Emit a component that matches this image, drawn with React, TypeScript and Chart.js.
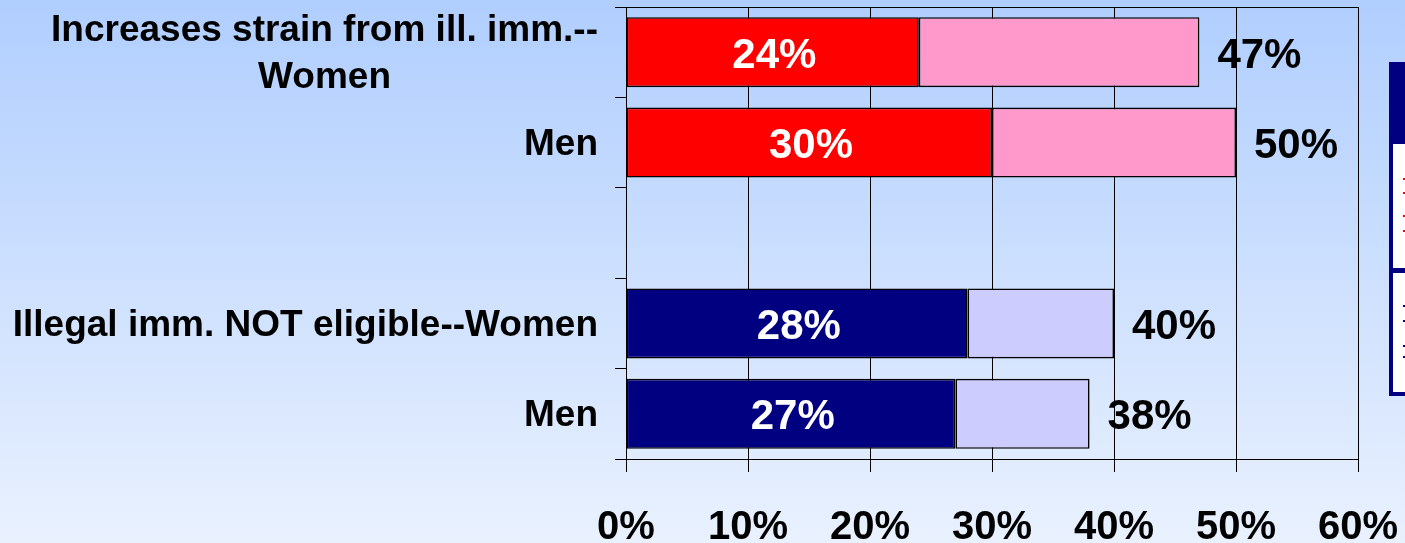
import React, { useEffect, useRef } from "react";
import { Chart, registerables } from "chart.js";

Chart.register(...registerables);

const categories: string[][] = [
  ["Increases strain from ill. imm.--", "Women"],
  ["Men"],
  [""],
  ["Illegal imm. NOT eligible--Women"],
  ["Men"],
];
const strongValues: (number | null)[] = [24, 30, null, 28, 27];
const totalValues: (number | null)[] = [47, 50, null, 40, 38];
const xTicks = [0, 10, 20, 30, 40, 50, 60];
const strongColors = ["#ff0000", "#ff0000", "#ff0000", "#000080", "#000080"];
const restColors = ["#ff99cc", "#ff99cc", "#ff99cc", "#ccccff", "#ccccff"];

const FONT = "'Liberation Sans', Arial, sans-serif";

const bgPlugin = {
  id: "bg",
  beforeDraw(chart: any) {
    const { ctx, width, height } = chart;
    const g = ctx.createLinearGradient(0, 0, 0, height);
    g.addColorStop(0, "#b0cefe");
    g.addColorStop(1, "#e9f1fe");
    ctx.save();
    ctx.fillStyle = g;
    ctx.fillRect(0, 0, width, height);
    ctx.restore();
  },
};

const decorPlugin = {
  id: "decor",
  afterDraw(chart: any) {
    const { ctx, chartArea, scales } = chart;
    const xs = scales.x;
    const ys = scales.y;
    ctx.save();
    // top border of plot
    ctx.strokeStyle = "#000";
    ctx.lineWidth = 1;
    ctx.beginPath();
    ctx.moveTo(chartArea.left, chartArea.top + 0.5);
    ctx.lineTo(chartArea.right, chartArea.top + 0.5);
    ctx.stroke();

    // y category labels
    ctx.font = `bold 37px ${FONT}`;
    ctx.fillStyle = "#000";
    ctx.textAlign = "center";
    ctx.textBaseline = "middle";
    const right = chartArea.left - 28;
    categories.forEach((lines, i) => {
      const cy = ys.getPixelForValue(i);
      const maxW = Math.max(...lines.map((l) => ctx.measureText(l).width));
      const cx = right - maxW / 2;
      lines.forEach((l, j) => {
        const y = cy + (j - (lines.length - 1) / 2) * 47;
        ctx.fillText(l, cx, y + 2);
      });
    });

    // value labels
    ctx.font = `bold 42px ${FONT}`;
    strongValues.forEach((v, i) => {
      const t = totalValues[i];
      if (v == null || t == null) return;
      const cy = ys.getPixelForValue(i);
      const x0 = xs.getPixelForValue(0);
      const x1 = xs.getPixelForValue(v);
      ctx.fillStyle = "#fff";
      ctx.textAlign = "center";
      ctx.fillText(`${v}%`, (x0 + x1) / 2 + 2, cy + 4);
      ctx.fillStyle = "#000";
      ctx.textAlign = "left";
      ctx.fillText(`${t}%`, xs.getPixelForValue(t) + 18, cy + 4);
    });

    // partially visible legend box on the right edge
    const lx = 1389;
    const top = 62;
    const bottom = 396;
    ctx.fillStyle = "#000080";
    ctx.fillRect(lx, top, 40, bottom - top);
    ctx.fillStyle = "#ffffff";
    ctx.fillRect(lx + 4, 144, 40, 268 - 144);
    ctx.fillRect(lx + 4, 273, 40, 392 - 273);
    ctx.fillStyle = "#ff0000";
    [178, 192, 215, 230].forEach((y) => ctx.fillRect(1403, y, 2, 2));
    ctx.fillStyle = "#000080";
    [305, 320, 345, 356].forEach((y) => ctx.fillRect(1403, y, 2, 2));
    ctx.restore();
  },
};

export default function App() {
  const ref = useRef<HTMLCanvasElement | null>(null);
  useEffect(() => {
    if (!ref.current) return;
    const chart = new Chart(ref.current, {
      type: "bar",
      data: {
        labels: categories.map((c) => c.join(" ")),
        datasets: [
          {
            label: "Strong",
            data: strongValues,
            backgroundColor: strongColors,
            borderColor: "#000",
            borderWidth: 1.6,
            borderSkipped: false,
            barPercentage: 0.774,
            categoryPercentage: 1,
          },
          {
            label: "Total",
            data: strongValues.map((v, i) =>
              v == null || totalValues[i] == null ? null : (totalValues[i] as number) - v
            ),
            backgroundColor: restColors,
            borderColor: "#000",
            borderWidth: 1.6,
            borderSkipped: false,
            barPercentage: 0.774,
            categoryPercentage: 1,
          },
        ],
      },
      options: {
        indexAxis: "y",
        responsive: false,
        animation: false,
        layout: { padding: { top: 7, right: 47, left: 0, bottom: 0 } },
        plugins: { legend: { display: false }, tooltip: { enabled: false } },
        scales: {
          x: {
            stacked: true,
            min: 0,
            max: 60,
            afterBuildTicks: (s: any) => {
              s.ticks = xTicks.map((v) => ({ value: v }));
            },
            ticks: {
              callback: (v: any) => `${v}%`,
              font: { family: FONT, size: 40, weight: "bold" },
              color: "#000",
              padding: 32,
              maxRotation: 0,
              autoSkip: false,
            },
            grid: { color: "#000", lineWidth: 1, tickLength: 13, drawOnChartArea: true },
            border: { display: true, color: "#000", width: 1 },
            afterFit: (s: any) => {
              s.height = 84;
              s.paddingLeft = 0;
              s.paddingRight = 0;
            },
          },
          y: {
            stacked: true,
            ticks: { display: false },
            grid: { offset: true, drawOnChartArea: false, color: "#000", tickLength: 11 },
            border: { display: true, color: "#000", width: 1 },
            afterFit: (s: any) => {
              s.width = 626;
              s.paddingTop = 0;
              s.paddingBottom = 0;
            },
          },
        },
      } as any,
      plugins: [bgPlugin, decorPlugin],
    });
    return () => chart.destroy();
  }, []);
  return (
    <div style={{ position: "absolute", left: 0, top: 0, width: 1405, height: 543 }}>
      <canvas ref={ref} width={1405} height={543} style={{ display: "block" }} />
    </div>
  );
}
